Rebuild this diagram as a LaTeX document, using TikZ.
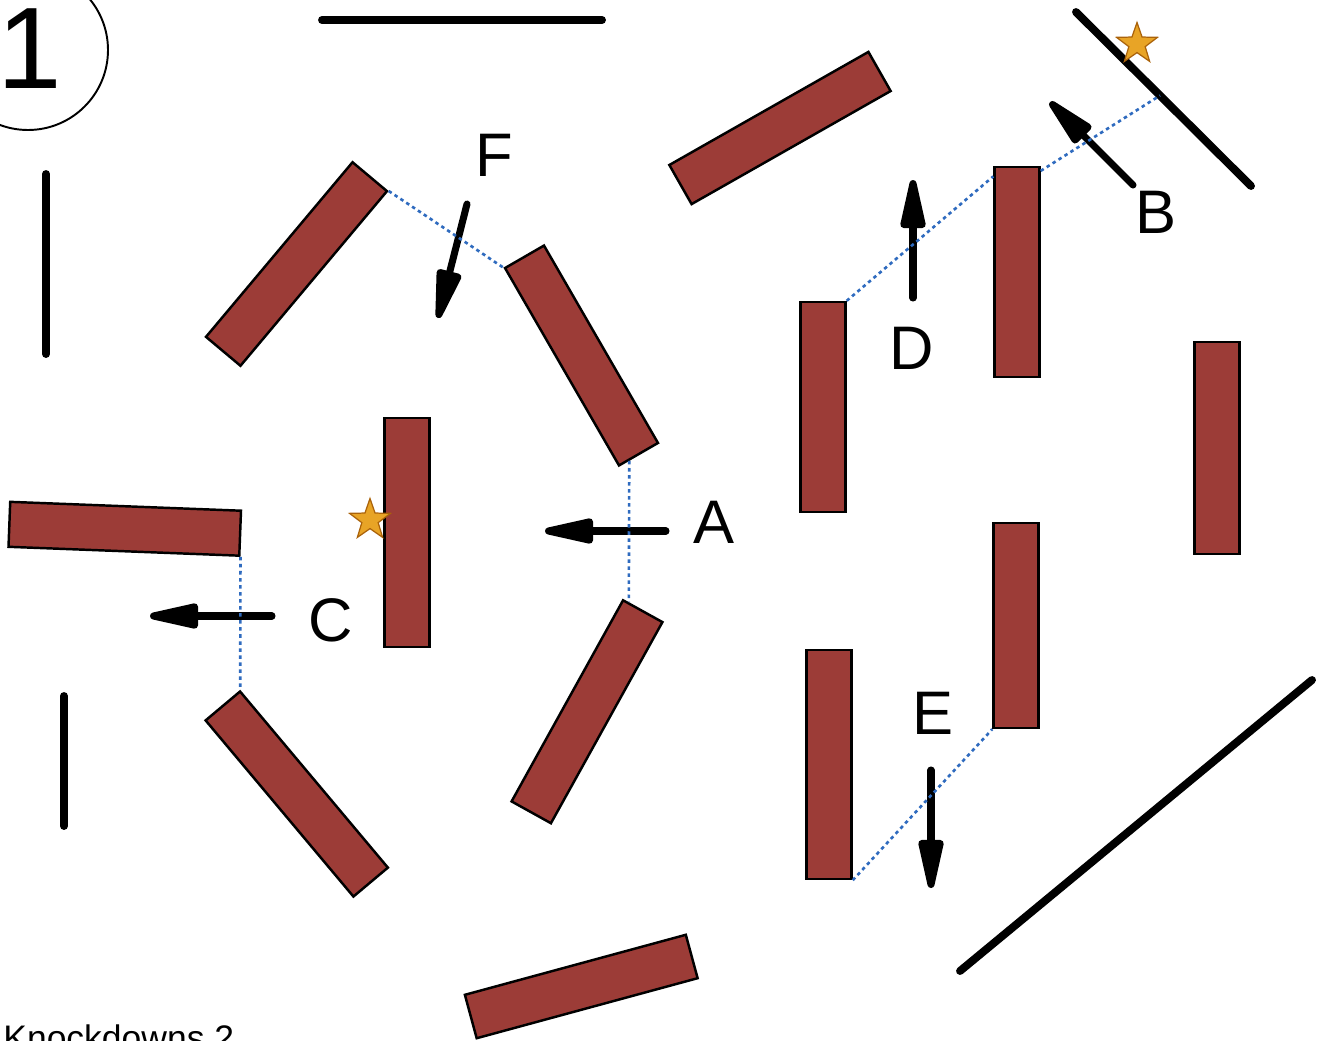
\documentclass[tikz,border=0pt]{standalone}
\usepackage{fontspec}
\setmainfont{Liberation Sans}
\usetikzlibrary{arrows.meta,shapes.geometric,calc}
\definecolor{brickred}{RGB}{156,60,55}
\definecolor{linkblue}{RGB}{47,107,191}
\definecolor{stargold}{RGB}{232,164,38}
\definecolor{staredge}{RGB}{170,98,10}
\begin{document}
\begin{tikzpicture}[x=0.02cm,y=-0.02cm,
  brick/.style={draw=black, fill=brickred, line width=1.4pt, inner sep=0pt,
    minimum height=0.9cm},
  wall/.style={line width=4.5pt, line cap=round},
  push/.style={line width=4pt, line cap=round,
    -{Triangle[length=1.25cm,width=0.5cm,round]}},
  link/.style={linkblue, line width=1.5pt, dash pattern=on 2pt off 2pt},
  tag/.style={inner sep=0pt, font=\fontsize{35}{40}\selectfont},
  medal/.style={star, star points=5, star point ratio=2.5, minimum size=0.86cm,
    inner sep=0pt, fill=stargold, draw=staredge, line width=0.7pt}]
  \useasboundingbox (0,0) rectangle (1325,1041);

  \draw[line width=1.1pt] (28,50) circle[radius=80];
  \node[anchor=base, inner sep=0pt, font=\fontsize{66}{70}\selectfont] (num) at (30,88) {1};
  \node[anchor=base west, inner sep=0pt, font=\fontsize{20.2}{22}\selectfont] (title) at (3,1050) {Knockdowns 2};

  \draw[wall] (322,20) -- (602,20);
  \draw[wall] (46,174) -- (46,354);
  \draw[wall] (64,696) -- (64,826);
  \draw[wall] (1076,12) coordinate (wb1) -- (1251,186) coordinate (wb2);
  \draw[wall] (960,971) -- (1312,680);

  \node[brick, minimum width=4.58cm, rotate=29.6] (b1) at (780,128) {};
  \node[brick, minimum width=4.56cm, rotate=50] (b2) at (296.5,264) {};
  \node[brick, minimum width=4.56cm, rotate=-60] (b3) at (581.5,355.5) {};
  \node[brick, minimum width=4.58cm, rotate=90] (b4) at (407,532.5) {};
  \node[brick, minimum width=4.62cm, rotate=-2.2] (b5) at (124.75,528.75) {};
  \node[brick, minimum width=4.6cm, rotate=-50] (b6) at (296.75,794) {};
  \node[brick, minimum width=4.6cm, rotate=61] (b7) at (587,711.75) {};
  \node[brick, minimum width=4.58cm, rotate=15.2] (b8) at (581.25,986.5) {};
  \node[brick, minimum width=4.2cm, rotate=90] (b9) at (823,407) {};
  \node[brick, minimum width=4.2cm, rotate=90] (b10) at (1017,272) {};
  \node[brick, minimum width=4.24cm, rotate=90] (b11) at (1217,448) {};
  \node[brick, minimum width=4.1cm, rotate=90] (b12) at (1016,625.5) {};
  \node[brick, minimum width=4.58cm, rotate=90] (b13) at (829,764.5) {};

  \node[medal] (s1) at (1137,44) {};
  \node[medal] (s2) at (370,520) {};

  \draw[push] (666,531) -- (545,531);
  \draw[push] (272,616) -- (150,616);
  \draw[push] (467,204) -- (438,318);
  \draw[push] (913,298) -- (913,180);
  \draw[push] (1133,185) -- (1050,102);
  \draw[push] (931,770) -- (931,888);

  \coordinate (wallhit) at ($(wb1)!0.48!(wb2)$);
  \draw[link] (b2.south east) -- (b3.south west);
  \draw[link] ($(b3.south east)!0.26!(b3.north east)$) -- ($(b7.north east)!0.15!(b7.south east)$);
  \draw[link] (b5.south east) -- (b6.north west);
  \draw[link] (b9.south east) -- ($(b10.north east)!0.05!(b10.north west)$);
  \draw[link] ($(b10.south east)!0.024!(b10.south west)$) -- (wallhit);
  \draw[link] (b13.south west) -- (b12.north west);

  \node[tag] (lf) at (494,155) {F};
  \node[tag] (la) at (714,522) {A};
  \node[tag] (lb) at (1156,212) {B};
  \node[tag] (lc) at (331,620) {C};
  \node[tag] (ld) at (912,348) {D};
  \node[tag] (le) at (933,713) {E};
\end{tikzpicture}
\end{document}
